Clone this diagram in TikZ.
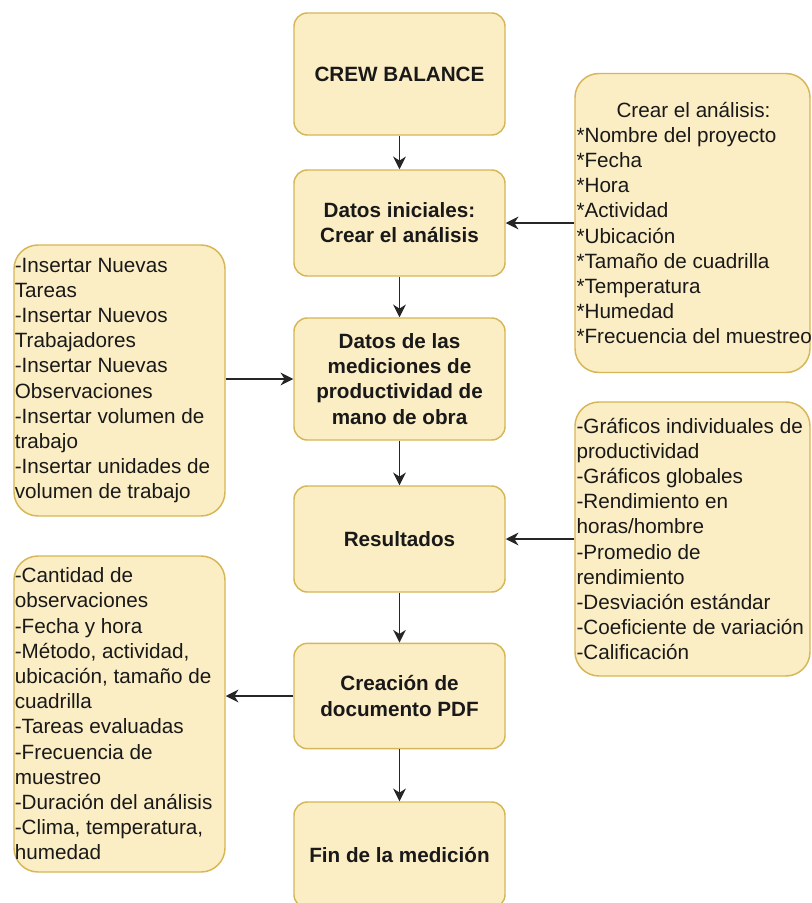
\documentclass[tikz,border=0pt]{standalone}
\usepackage{fontspec}
\setmainfont{Liberation Sans}
\usetikzlibrary{arrows.meta}
\definecolor{boxfill}{RGB}{251,237,196}
\definecolor{boxline}{RGB}{214,182,86}

\begin{document}
\begin{tikzpicture}[x=0.75pt,y=0.75pt,yscale=-1,xscale=1,
  stepbox/.style={draw=boxline, fill=boxfill, line width=1.1pt, rounded corners=10pt,
    minimum width=158.25pt, align=center, text=black!90,
    font=\fontsize{15.5}{18.9}\selectfont\bfseries},
  listbox/.style={draw=boxline, fill=boxfill, line width=1.1pt, rounded corners=18pt},
  listtext/.style={anchor=west, inner sep=0pt, align=left, text=black!90,
    font=\fontsize{15.5}{18.9}\selectfont},
  flow/.style={-{Stealth[length=9.5pt,width=9.5pt,inset=3pt]}, line width=1.4pt, black!85}]

      \useasboundingbox (0,0) rectangle (812,903);

      % Process steps
      \node[stepbox, minimum height=91.5pt] (crew) at (399.5,74) {CREW BALANCE};
      \node[stepbox, minimum height=79.5pt] (datos) at (399.5,223) {Datos iniciales:\\Crear el análisis};
      \node[stepbox, minimum height=91.5pt] (medic) at (399.5,379) {Datos de las\\mediciones de\\productividad de\\mano de obra};
      \node[stepbox, minimum height=79.5pt] (result) at (399.5,539) {Resultados};
      \node[stepbox, minimum height=79pt] (pdf) at (399.5,696) {Creación de\\documento PDF};
      \node[stepbox, minimum height=79.5pt] (fin) at (399.5,855) {Fin de la medición};

      % Side box: crear el analisis
      \node[listbox, minimum width=176.25pt, minimum height=224.25pt] (crear) at (692.5,223) {};
      \node[listtext] (crear-txt) at ([xshift=1.5pt]crear.west) {\hspace*{30pt}Crear el análisis:\\*Nombre del proyecto\\*Fecha\\*Hora\\*Actividad\\*Ubicación\\*Tamaño de cuadrilla\\*Temperatura\\*Humedad\\*Frecuencia del muestreo};

      % Side box: insertar
      \node[listbox, minimum width=158.25pt, minimum height=203.25pt] (insertar) at (119.5,380.5) {};
      \node[listtext] (insertar-txt) at ([xshift=1pt]insertar.west) {-Insertar Nuevas\\Tareas\\-Insertar Nuevos\\Trabajadores\\-Insertar Nuevas\\Observaciones\\-Insertar volumen de\\trabajo\\-Insertar unidades de\\volumen de trabajo};

      % Side box: graficos
      \node[listbox, minimum width=176.25pt, minimum height=205.5pt] (graficos) at (692.5,539) {};
      \node[listtext] (graficos-txt) at ([xshift=1.5pt]graficos.west) {-Gráficos individuales de\\productividad\\-Gráficos globales\\-Rendimiento en\\horas/hombre\\-Promedio de\\rendimiento\\-Desviación estándar\\-Coeficiente de variación\\-Calificación};

      % Side box: contenido del PDF
      \node[listbox, minimum width=158.25pt, minimum height=237pt] (cantidad) at (119.5,714) {};
      \node[listtext] (cantidad-txt) at ([xshift=1pt]cantidad.west) {-Cantidad de\\observaciones\\-Fecha y hora\\-Método, actividad,\\ubicación, tamaño de\\cuadrilla\\-Tareas evaluadas\\-Frecuencia de\\muestreo\\-Duración del análisis\\-Clima, temperatura,\\humedad};

      % Connectors
      \draw[flow] (crew) -- (datos);
      \draw[flow] (datos) -- (medic);
      \draw[flow] (medic) -- (result);
      \draw[flow] (result) -- (pdf);
      \draw[flow] (pdf) -- (fin);
      \draw[flow] (crear.west) -- (datos.east);
      \draw[flow] (insertar.east |- medic.west) -- (medic.west);
      \draw[flow] (graficos.west) -- (result.east);
      \draw[flow] (pdf.west) -- (pdf.west -| cantidad.east);
\end{tikzpicture}
\end{document}
